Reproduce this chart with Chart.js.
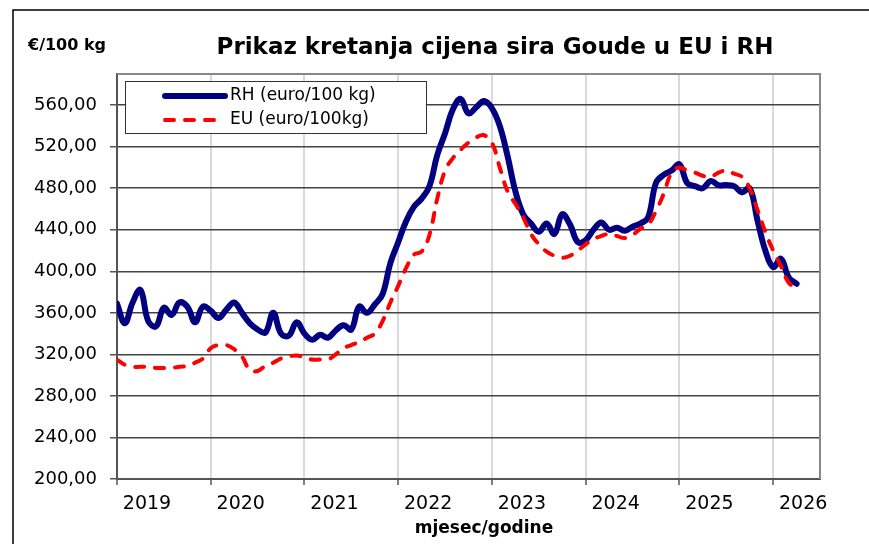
<!DOCTYPE html>
<html>
<head>
<meta charset="utf-8">
<script src="https://cdn.jsdelivr.net/npm/chart.js@4.4.1/dist/chart.umd.min.js"></script>
<style>
  html, body { margin: 0; padding: 0; background: #fff; }
  #wrap { width: 869px; height: 544px; position: relative; }
</style>
</head>
<body>
<div id="wrap"><canvas id="c" width="869" height="544"></canvas></div>
<script>
// mjesečni podaci, siječanj 2019 – travanj 2026
const yearLabels = ['2019', '2020', '2021', '2022', '2023', '2024', '2025', '2026'];
const yTicks = [200, 240, 280, 320, 360, 400, 440, 480, 520, 560];

const rhPrices = [
  369, 350, 370, 382, 352, 347, 365, 358, 370, 366, 351, 366,
  362, 355, 363, 370, 360, 350, 344, 341, 360, 340, 338, 351,
  340, 334, 339, 336, 343, 348, 344, 366, 360, 368, 378, 408,
  428, 448, 462, 470, 482, 512, 533, 556, 566, 552, 558, 564,
  557, 540, 511, 477, 455, 446, 438, 446, 436, 455, 445, 428,
  430, 440, 447, 440, 442, 439, 443, 446, 452, 485, 493, 497,
  503, 485, 482, 480, 487, 483, 483, 482, 476, 480, 449, 420,
  404, 412, 394, 388
];

const euPrices = [
  315, 310, 308, 308, 308, 307, 307, 307, 308, 309, 312, 316,
  326, 329, 329, 325, 318, 305, 304, 309, 312, 316, 318, 319,
  317, 315, 315, 315, 320, 326, 329, 332, 336, 340, 352, 370,
  386, 403, 416, 419, 435, 470, 497, 509, 517, 524, 529, 531,
  524, 500, 477, 465, 452, 436, 426, 419, 415, 413, 415, 420,
  426, 431, 434, 436, 434, 432, 435, 441, 445, 458, 475, 495,
  500, 497, 495, 492, 491, 495, 497, 494, 491, 480, 459, 438,
  420, 405, 389, 384
];

const seriesNames = ['RH (euro/100 kg)', 'EU (euro/100kg)'];
const FONT = 'DejaVu Sans';

function toPoints(arr) {
  return arr.map((v, i) => ({ x: i, y: v }));
}

// okvir, naslov, legenda i natpisi osi
const decorPlugin = {
  id: 'decor',
  beforeDraw(chart) {
    const ctx = chart.ctx;
    ctx.save();
    ctx.fillStyle = '#fff';
    ctx.fillRect(0, 0, chart.width, chart.height);
    ctx.strokeStyle = '#000';
    ctx.lineWidth = 1.5;
    ctx.beginPath();
    ctx.moveTo(13, 544);
    ctx.lineTo(13, 10);
    ctx.lineTo(869, 10);
    ctx.stroke();
    ctx.restore();
  },
  afterDraw(chart) {
    const ctx = chart.ctx;
    const a = chart.chartArea;
    ctx.save();

    // rub područja grafa
    ctx.strokeStyle = '#888';
    ctx.lineWidth = 2;
    ctx.beginPath();
    ctx.moveTo(a.left, a.top);
    ctx.lineTo(a.right, a.top);
    ctx.lineTo(a.right, a.bottom);
    ctx.stroke();

    // legenda
    ctx.fillStyle = '#fff';
    ctx.fillRect(125, 81, 301, 52);
    ctx.strokeStyle = '#333';
    ctx.lineWidth = 1;
    ctx.strokeRect(125.5, 81.5, 301, 52);

    const ds = chart.data.datasets;
    const rows = [96, 120];
    ds.forEach((d, i) => {
      ctx.strokeStyle = d.borderColor;
      ctx.lineWidth = d.borderWidth;
      ctx.lineCap = d.borderCapStyle || 'butt';
      ctx.setLineDash(d.borderDash || []);
      ctx.beginPath();
      ctx.moveTo(165, rows[i]);
      ctx.lineTo(225, rows[i]);
      ctx.stroke();
      ctx.setLineDash([]);
      ctx.fillStyle = '#000';
      ctx.font = '17px "' + FONT + '"';
      ctx.textBaseline = 'middle';
      ctx.textAlign = 'left';
      ctx.fillText(d.label, 230, rows[i]);
    });

    // naslovi
    ctx.fillStyle = '#000';
    ctx.textBaseline = 'alphabetic';
    ctx.textAlign = 'center';
    ctx.font = 'bold 23px "' + FONT + '"';
    ctx.fillText('Prikaz kretanja cijena sira Goude u EU i RH', 495, 54);
    ctx.textAlign = 'left';
    ctx.font = 'bold 16px "' + FONT + '"';
    ctx.fillText('€/100 kg', 28, 50);
    ctx.textAlign = 'center';
    ctx.font = 'bold 17px "' + FONT + '"';
    ctx.fillText('mjesec/godine', 484, 533);
    ctx.restore();
  }
};

const ctx = document.getElementById('c').getContext('2d');
new Chart(ctx, {
  type: 'line',
  data: {
    datasets: [
      {
        label: seriesNames[0],
        data: toPoints(rhPrices),
        borderColor: '#000080',
        borderWidth: 6,
        borderCapStyle: 'round',
        borderJoinStyle: 'round',
        pointRadius: 0,
        tension: 0.4,
        order: 2
      },
      {
        label: seriesNames[1],
        data: toPoints(euPrices),
        borderColor: '#ff0000',
        borderWidth: 4,
        borderDash: [9, 11],
        borderCapStyle: 'round',
        pointRadius: 0,
        tension: 0.4,
        order: 1
      }
    ]
  },
  options: {
    responsive: false,
    animation: false,
    layout: { padding: { top: 74, right: 49, left: 0, bottom: 0 } },
    plugins: {
      legend: { display: false },
      title: { display: false },
      tooltip: { enabled: false }
    },
    scales: {
      x: {
        type: 'linear',
        min: 0,
        max: 90,
        afterBuildTicks: (scale) => {
          scale.ticks = yearLabels.map((y, i) => ({ value: i * 12 }));
        },
        afterFit: (scale) => { scale.height = 65; },
        ticks: {
          autoSkip: false,
          maxRotation: 0,
          labelOffset: 30,
          padding: 8,
          color: '#000',
          font: { family: FONT, size: 19 },
          callback: (v, i) => yearLabels[i]
        },
        grid: {
          color: '#d9d9d9',
          lineWidth: 2,
          tickLength: 6,
          tickColor: '#555',
          tickWidth: 1.5
        },
        border: { color: '#555', width: 2 }
      },
      y: {
        min: 200,
        max: 590,
        afterBuildTicks: (scale) => {
          scale.ticks = yTicks.map(v => ({ value: v }));
        },
        afterFit: (scale) => { scale.width = 117; },
        ticks: {
          padding: 13,
          color: '#000',
          font: { family: FONT, size: 18 },
          callback: (v) => v.toFixed(2).replace('.', ',')
        },
        grid: {
          color: '#444',
          lineWidth: 1.5,
          tickLength: 7,
          tickColor: '#555'
        },
        border: { color: '#555', width: 2 }
      }
    }
  },
  plugins: [decorPlugin]
});
</script>
</body>
</html>
